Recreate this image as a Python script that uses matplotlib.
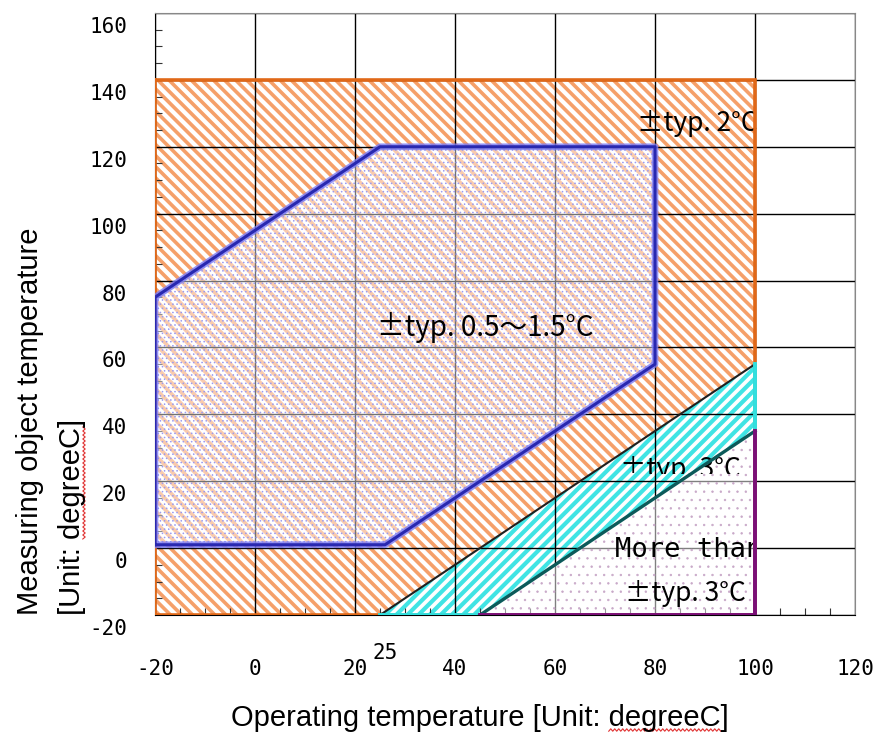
import numpy as np
import matplotlib
matplotlib.use("Agg")
import matplotlib.pyplot as plt
from matplotlib.patches import Polygon
from matplotlib.ticker import MultipleLocator
from matplotlib.transforms import ScaledTranslation, Bbox, TransformedBbox

# region corners (operating temp, object temp)
orange_x = [-20, 25, 100, 100, -20]
orange_y = [-20, -20, 55, 140, 140]
blue_x = [-20, -20, 25, 80, 80, 26]
blue_y = [1, 75, 120, 120, 55, 1]
cyan_x = [25, 100, 100, 45]
cyan_y = [-20, 55, 35, -20]
purple_x = [45, 100, 100]
purple_y = [-20, 35, -20]

x_ticks = [-20, 0, 20, 40, 60, 80, 100, 120]
x_labels = ['-20', '0', '20', '40', '60', '80', '100', '120']
y_ticks = [-20, 0, 20, 40, 60, 80, 100, 120, 140, 160]
y_labels = ['-20', '0', '20', '40', '60', '80', '100', '120', '140', '160']

W, H = 877, 738
fig = plt.figure(figsize=(W / 100, H / 100), dpi=100)
ax = fig.add_axes([155 / W, 1 - 615 / H, 700 / W, 602 / H])
ax.set_xlim(-20, 120)
ax.set_ylim(-20, 160)

ax.set_xticks(x_ticks)
ax.set_xticklabels(x_labels)
ax.set_yticks(y_ticks)
ax.set_yticklabels(y_labels)
ax.xaxis.set_minor_locator(MultipleLocator(5))
ax.yaxis.set_minor_locator(MultipleLocator(5))
ax.tick_params(which='major', length=0)
ax.tick_params(which='minor', direction='in', length=5, width=0.8, color='#333333')
ax.tick_params(axis='x', pad=32)
ax.tick_params(axis='y', pad=20)
for lab in ax.get_xticklabels() + ax.get_yticklabels():
    lab.set_family('DejaVu Sans Mono')
    lab.set_fontsize(15)
# the y labels sit a bit under their grid lines in the original
off = ScaledTranslation(0, -12 / 100, fig.dpi_scale_trans)
for lab in ax.get_yticklabels():
    lab.set_transform(lab.get_transform() + off)

ax.set_axisbelow('line')   # grid at zorder 1.5, over the hatching
ax.grid(True, which='major', color='black', lw=1.0)
ax.spines['top'].set_color('#888888')
ax.spines['right'].set_color('#888888')
ax.spines['left'].set_color('black')
ax.spines['bottom'].set_color('black')


def hatched(xs, ys, hatch, color, hlw, face='none', z=1):
    plt.rcParams['hatch.linewidth'] = hlw
    p = Polygon(np.column_stack([xs, ys]), closed=True, facecolor=face,
                edgecolor=color, hatch=hatch, lw=0, zorder=z)
    if hasattr(p, 'set_hatch_linewidth'):
        p.set_hatch_linewidth(hlw)
    ax.add_patch(p)
    return p


def veil(xs, ys, a):
    ax.add_patch(Polygon(np.column_stack([xs, ys]), closed=True,
                         facecolor='white', alpha=a, lw=0, zorder=2))


# orange +-2 region
hatched(orange_x, orange_y, '\\\\\\', '#F5A06A', 2.6)
# blue region: lighten the orange and grid, add dots
veil(blue_x, blue_y, 0.45)
hatched(blue_x, blue_y, '....', '#9A9AF0', 0.6, z=3)
# cyan +-3 band
hatched(cyan_x, cyan_y, '///', '#40E4E4', 3.0, face='white')
# purple "more than" triangle
veil(purple_x, purple_y, 0.5)
hatched(purple_x, purple_y, '..', '#C8A8C8', 0.5, z=3)

# outlines
ax.plot([-20, 100, 100, -20, -20], [140, 140, -20, -20, 140],
        color='#E06818', lw=2.6, zorder=4, solid_joinstyle='miter')
bx = blue_x + [blue_x[0]]
by = blue_y + [blue_y[0]]
ax.plot(bx, by, color='#7A7AF5', lw=4.8, alpha=0.8, zorder=5, solid_joinstyle='round')
ax.plot(bx, by, color='#2828B0', lw=2.2, zorder=5.5, solid_joinstyle='round')
ax.plot([cyan_x[0], cyan_x[1]], [cyan_y[0], cyan_y[1]], color='#202020', lw=1.5, zorder=5)
ax.plot([100, 100], [55, 35], color='#30E0E0', lw=2.8, zorder=5)
ax.plot([25, 45], [-20, -20], color='#30E0E0', lw=2.8, zorder=5)
ax.plot([45, 100], [-20, 35], color='#0C5A5A', lw=2.4, zorder=5)
ax.plot([45, 100, 100], [-20, -20, 35], color='#7A1078', lw=2.8, zorder=5,
        solid_joinstyle='miter')


def data_box(x0, y0, x1, y1):
    return TransformedBbox(Bbox([[x0, y0], [x1, y1]]), ax.transData)


# region captions
cjk = ['Noto Sans CJK JP', 'DejaVu Sans']
ax.text(100.6, 127, '±typ. 2°C', family=cjk, fontsize=19, ha='right', va='center', zorder=3.5)
ax.text(46, 66, '±typ. 0.5～1.5°C', family=cjk, fontsize=20, ha='center', va='center', zorder=6)
# this caption is partly hidden in the original
t = ax.text(85, 21.4, '±typ. 3°C', family=cjk, fontsize=19, ha='center', va='baseline', zorder=3.5)
t.set_clip_on(True)
t.set_clip_box(data_box(60, 22.2, 100, 45))
t = ax.text(72, -0.5, 'More than', family='DejaVu Sans Mono', fontsize=19.5, ha='left',
            va='center', zorder=3.5)
t.set_clip_on(True)
t.set_clip_box(data_box(60, -20, 99.6, 20))
ax.text(86, -13.7, '±typ. 3°C', family=cjk, fontsize=19, ha='center', va='center', zorder=6)

# extra "25" tick label
ax.text(26, -20, '25', family='DejaVu Sans Mono', fontsize=15, ha='center', va='top',
        transform=ax.transData + ScaledTranslation(0, -28 / 100, fig.dpi_scale_trans))

# axis titles
lab_font = dict(family='Liberation Sans', fontsize=21)
xt = fig.text(480 / W, 1 - 718 / H, 'Operating temperature [Unit: degreeC]',
              ha='center', va='center', **lab_font)
fig.text(30 / W, 1 - 615 / H, 'Measuring object temperature', rotation=90,
         ha='center', va='bottom', **lab_font)
yt = fig.text(72 / W, 1 - 615 / H, '[Unit: degreeC]', rotation=90,
              ha='center', va='bottom', **lab_font)

# red spell-check squiggles under "degreeC"
rend = fig.canvas.get_renderer()


def text_w(s):
    tmp = fig.text(0, 0, s, **lab_font)
    w = tmp.get_window_extent(rend).width
    tmp.remove()
    return w


def squiggle(a0, a1, base, vertical):
    n = int((a1 - a0) / 2) + 1
    a = a0 + 2 * np.arange(n)
    b = base + np.where(np.arange(n) % 2 == 0, -1.2, 1.2)
    if vertical:
        xs, ys = b, a
    else:
        xs, ys = a, b
    fig.add_artist(plt.Line2D(xs / W, ys / H, color='#E03030', lw=0.8,
                              transform=fig.transFigure))


bb = xt.get_window_extent(rend)
s0 = bb.x0 + text_w('Operating temperature [Unit: ')
squiggle(s0, s0 + text_w('degreeC'), bb.y0 + 2, False)
bb = yt.get_window_extent(rend)
s0 = bb.y0 + text_w('[Unit: ')
squiggle(s0, s0 + text_w('degreeC'), bb.x1 - 2, True)

fig.savefig('out.png', dpi=100)
